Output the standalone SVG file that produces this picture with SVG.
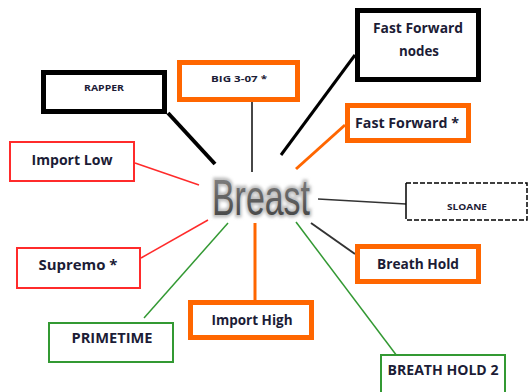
<svg xmlns="http://www.w3.org/2000/svg" width="528" height="392" viewBox="0 0 528 392">
<defs>
<style>
.lbl{font-family:"Open Sans","Liberation Sans",sans-serif;font-weight:bold;fill:#1c1c36;text-anchor:middle}
.big{font-size:14px}
.small{font-size:8.5px}
.ob{fill:#fff;stroke:#ff6600;stroke-width:5}
.kb{fill:#fff;stroke:#000;stroke-width:5}
.rb{fill:#fff;stroke:#ff2b2b;stroke-width:2}
.gb{fill:#fff;stroke:#339933;stroke-width:2}
</style>
<linearGradient id="bg" x1="0" y1="0" x2="0" y2="1">
<stop offset="0" stop-color="#8a8a8a"/>
<stop offset="1" stop-color="#3a3a3a"/>
</linearGradient>
<filter id="glow" x="-20%" y="-30%" width="140%" height="160%">
<feGaussianBlur stdDeviation="1.5"/>
</filter>
</defs>
<rect width="528" height="392" fill="#fff"/>
<g id="connectors" fill="none">
<line x1="168" y1="113" x2="215" y2="164" stroke="#000" stroke-width="4"/>
<line x1="252" y1="102" x2="252" y2="172" stroke="#333" stroke-width="1.8"/>
<line x1="355" y1="55" x2="281" y2="155" stroke="#000" stroke-width="3"/>
<line x1="345" y1="125" x2="296" y2="169" stroke="#ff6600" stroke-width="3"/>
<line x1="135" y1="163" x2="199" y2="185" stroke="#ff2b2b" stroke-width="1.5"/>
<line x1="318" y1="199" x2="406" y2="204" stroke="#333" stroke-width="1.5"/>
<line x1="311" y1="223" x2="355" y2="254" stroke="#333" stroke-width="2"/>
<line x1="296" y1="222" x2="397" y2="356" stroke="#339933" stroke-width="1.5"/>
<line x1="255" y1="223" x2="255" y2="300" stroke="#ff6600" stroke-width="3"/>
<line x1="228" y1="223" x2="144" y2="318" stroke="#339933" stroke-width="1.5"/>
<line x1="141" y1="258" x2="208" y2="220" stroke="#ff2b2b" stroke-width="1.5"/>
</g>
<g id="breast">
<text x="261" y="215" font-family="Liberation Sans,Arial,sans-serif" font-size="50" textLength="98" lengthAdjust="spacingAndGlyphs" text-anchor="middle" fill="none" stroke="#bdbdbd" stroke-width="5" filter="url(#glow)">Breast</text>
<text x="261" y="215" font-family="Liberation Sans,Arial,sans-serif" font-size="50" textLength="98" lengthAdjust="spacingAndGlyphs" text-anchor="middle" fill="url(#bg)">Breast</text>
</g>
<g id="rapper">
<rect class="kb" x="43.5" y="72.5" width="121" height="39"/>
<text class="lbl small" x="104" y="91" textLength="40" lengthAdjust="spacingAndGlyphs">RAPPER</text>
</g>
<g id="big307">
<rect class="ob" x="179.5" y="62.5" width="118" height="37"/>
<text class="lbl small" x="239" y="82" textLength="56" lengthAdjust="spacingAndGlyphs">BIG 3-07  *</text>
</g>
<g id="ffnodes">
<rect class="kb" x="357.5" y="10.5" width="121" height="69"/>
<text class="lbl big" x="418" y="33" font-size="13" textLength="90" lengthAdjust="spacingAndGlyphs">Fast Forward</text>
<text class="lbl big" x="419" y="56" font-size="13" textLength="40" lengthAdjust="spacingAndGlyphs">nodes</text>
</g>
<g id="ffstar">
<rect class="ob" x="347.5" y="105.5" width="121" height="35"/>
<text class="lbl big" x="407" y="128" font-size="13" textLength="104" lengthAdjust="spacingAndGlyphs">Fast Forward  *</text>
</g>
<g id="importlow">
<rect class="rb" x="10" y="142" width="124" height="39"/>
<text class="lbl big" x="72" y="165" textLength="81" lengthAdjust="spacingAndGlyphs">Import Low</text>
</g>
<g id="sloane">
<path d="M406 183 V219" stroke="#000" stroke-width="1.5" fill="none"/>
<path d="M406 183 H527 V220 H406" stroke="#000" stroke-width="1.5" fill="none" stroke-dasharray="5 2"/>
<text class="lbl small" x="467" y="210" textLength="40" lengthAdjust="spacingAndGlyphs">SLOANE</text>
</g>
<g id="breathhold">
<rect class="ob" x="357.5" y="246.5" width="121" height="35"/>
<text class="lbl big" x="418" y="269" textLength="82" lengthAdjust="spacingAndGlyphs">Breath Hold</text>
</g>
<g id="supremo">
<rect class="rb" x="17" y="248" width="123" height="40"/>
<text class="lbl big" x="78" y="270" textLength="79" lengthAdjust="spacingAndGlyphs">Supremo  *</text>
</g>
<g id="importhigh">
<rect class="ob" x="190.5" y="302.5" width="121" height="35"/>
<text class="lbl big" x="252" y="325" textLength="81" lengthAdjust="spacingAndGlyphs">Import High</text>
</g>
<g id="primetime">
<rect class="gb" x="49" y="323" width="124" height="39"/>
<text class="lbl big" x="112" y="343" textLength="81" lengthAdjust="spacingAndGlyphs">PRIMETIME</text>
</g>
<g id="breathhold2">
<rect class="gb" x="381" y="355" width="124" height="40"/>
<text class="lbl big" x="443" y="375" textLength="111" lengthAdjust="spacingAndGlyphs">BREATH HOLD 2</text>
</g>
</svg>
